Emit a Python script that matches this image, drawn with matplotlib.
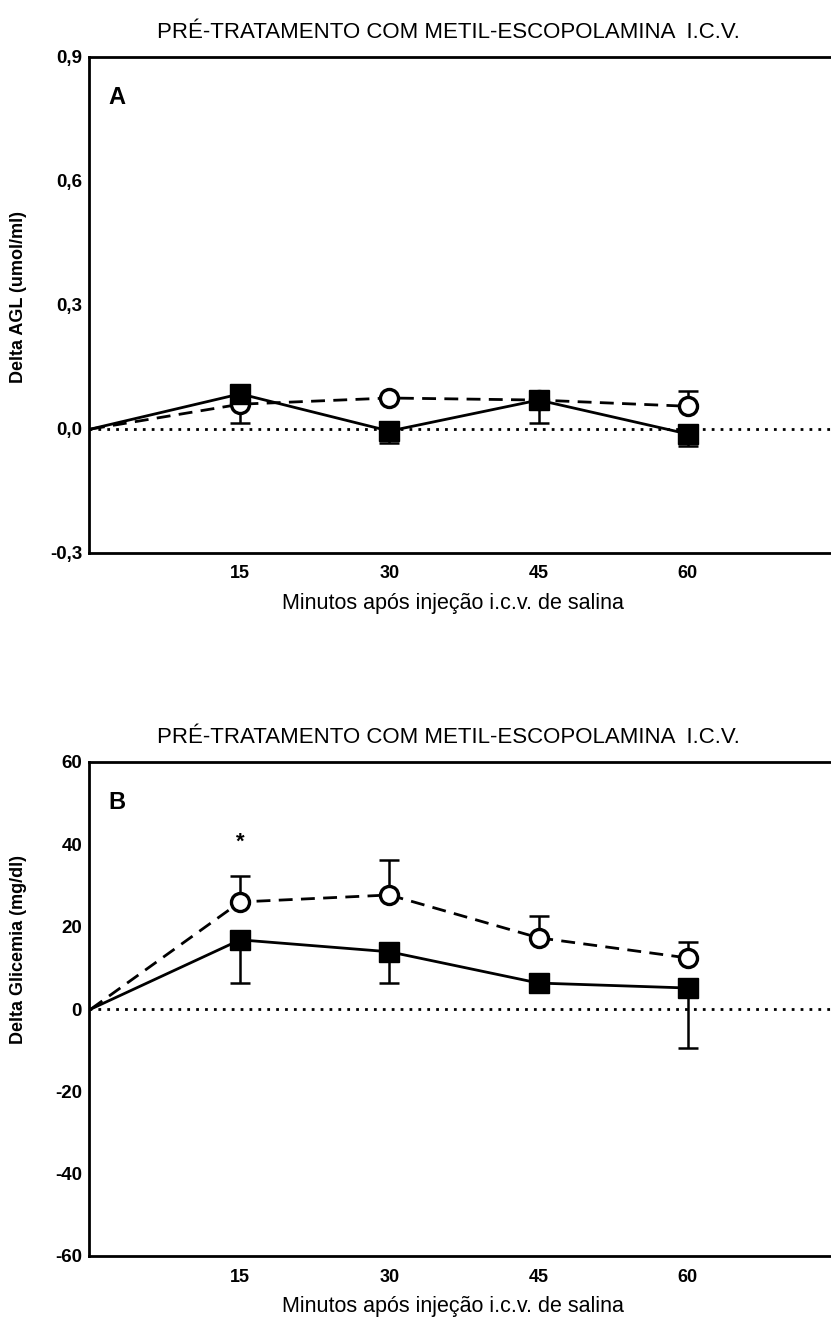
import matplotlib
matplotlib.use('Agg')
import matplotlib.pyplot as plt
import numpy as np

plt.rcParams['font.family'] = ['Liberation Sans', 'DejaVu Sans']

minutes = [0, 15, 30, 45, 60]
xticks = [15, 30, 45, 60]

# painel A - Delta AGL (umol/ml)
agl_circle = [0, 0.06, 0.075, 0.07, 0.055]
agl_circle_lo = [0, 0.045, 0, 0, 0]
agl_circle_hi = [0, 0, 0, 0, 0.037]
agl_square = [0, 0.085, -0.005, 0.07, -0.012]
agl_square_lo = [0, 0, 0.03, 0.055, 0.028]
agl_square_hi = [0, 0, 0, 0, 0]
agl_yticks = [-0.3, 0.0, 0.3, 0.6, 0.9]
agl_yticklabels = ['-0,3', '0,0', '0,3', '0,6', '0,9']

# painel B - Delta Glicemia (mg/dl)
gli_circle = [0, 26, 27.7, 17.3, 12.4]
gli_circle_lo = [0, 0, 0, 0, 0]
gli_circle_hi = [0, 6.4, 8.6, 5.3, 3.9]
gli_square = [0, 16.8, 13.9, 6.3, 5.1]
gli_square_lo = [0, 10.5, 7.6, 0, 14.6]
gli_square_hi = [0, 0, 0, 0, 0]
gli_yticks = [-60, -40, -20, 0, 20, 40, 60]
gli_yticklabels = ['-60', '-40', '-20', '0', '20', '40', '60']

title = 'PRÉ-TRATAMENTO COM METIL-ESCOPOLAMINA  I.C.V.'
xlabel = 'Minutos após injeção i.c.v. de salina'

W, H = 831, 1322
fig = plt.figure(figsize=(W / 100, H / 100), dpi=100)
axA = fig.add_axes([89 / W, 1 - 553 / H, 1 - 89 / W, 496 / H])
axB = fig.add_axes([89 / W, 1 - 1256 / H, 1 - 89 / W, 494 / H])


def panel(ax, ylim, yt, ytl, circ, c_lo, c_hi, sq, s_lo, s_hi, ylabel, letter, ylab_y):
    ax.set_xlim(-0.2, 74.4)
    ax.set_ylim(*ylim)
    ax.axhline(0, color='black', linestyle=(0, (1, 2.2)), lw=2.0, zorder=1)
    # circulos abertos, linha tracejada
    ax.errorbar(minutes[1:], circ[1:], yerr=[c_lo[1:], c_hi[1:]], fmt='none',
                ecolor='black', elinewidth=1.8, capsize=7, capthick=1.8, zorder=2)
    ax.plot(minutes, circ, color='black', linestyle=(0, (5, 3)), lw=2.0, zorder=2)
    ax.plot(minutes[1:], circ[1:], linestyle='none', marker='o', ms=13,
            mfc='white', mec='black', mew=2.4, zorder=3)
    # quadrados cheios, linha continua
    ax.errorbar(minutes[1:], sq[1:], yerr=[s_lo[1:], s_hi[1:]], fmt='none',
                ecolor='black', elinewidth=1.8, capsize=7, capthick=1.8, zorder=4)
    ax.plot(minutes, sq, color='black', lw=2.0, zorder=4)
    ax.plot(minutes[1:], sq[1:], linestyle='none', marker='s', ms=14.5,
            mfc='black', mec='black', zorder=5)
    ax.set_xticks(xticks)
    ax.set_xticklabels([str(t) for t in xticks], fontsize=13, fontweight='bold')
    ax.set_yticks(yt)
    ax.set_yticklabels(ytl, fontsize=13.5, fontweight='bold')
    ax.tick_params(length=0, pad=5)
    ax.tick_params(axis='x', pad=9)
    for s in ['left', 'bottom', 'top']:
        ax.spines[s].set_linewidth(2.0)
    ax.spines['right'].set_visible(False)
    ax.set_ylabel(ylabel, fontsize=13, fontweight='bold')
    ax.yaxis.set_label_coords((27 - 89) / 742, ylab_y)
    ax.text((448 - 89) / 742, 1 + 25 / 496, title, transform=ax.transAxes,
            ha='center', va='center', fontsize=16)
    ax.text((453 - 89) / 742, -51 / 496, xlabel, transform=ax.transAxes,
            ha='center', va='center', fontsize=15.5)
    ax.text((117 - 89) / 742, 1 - 41 / 496, letter, transform=ax.transAxes,
            ha='center', va='center', fontsize=17, fontweight='bold')


panel(axA, (-0.3, 0.9), agl_yticks, agl_yticklabels, agl_circle, agl_circle_lo,
      agl_circle_hi, agl_square, agl_square_lo, agl_square_hi,
      'Delta AGL (umol/ml)', 'A', 0.516)
panel(axB, (-60, 60), gli_yticks, gli_yticklabels, gli_circle, gli_circle_lo,
      gli_circle_hi, gli_square, gli_square_lo, gli_square_hi,
      'Delta Glicemia (mg/dl)', 'B', 0.62)
axB.text(15, 40.6, '*', ha='center', va='center', fontsize=16, fontweight='bold')

fig.savefig('out.png', dpi=100)
